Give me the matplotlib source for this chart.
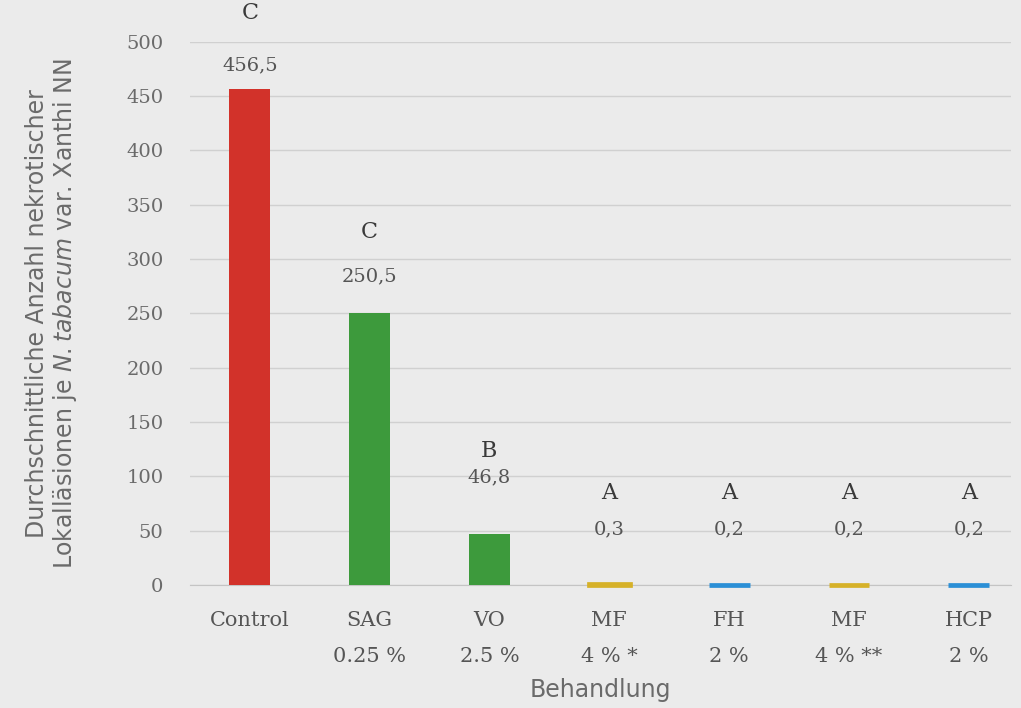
import matplotlib
matplotlib.use('Agg')
import matplotlib.pyplot as plt
import numpy as np

# data
behandlung = ['Control\n ', 'SAG\n0.25 %', 'VO\n2.5 %', 'MF\n4 % *', 'FH\n2 %', 'MF\n4 % **', 'HCP\n2 %']
werte = [456.5, 250.5, 46.8, 0.3, 0.2, 0.2, 0.2]
wert_texte = ['456,5', '250,5', '46,8', '0,3', '0,2', '0,2', '0,2']
gruppen = ['C', 'C', 'B', 'A', 'A', 'A', 'A']
yticks = [0, 50, 100, 150, 200, 250, 300, 350, 400, 450, 500]

farben = ['#d2322a', '#3d9a3c', '#3d9a3c', '#d6b128', '#2b8fd6', '#d6b128', '#2b8fd6']
# offsets of the labels above the bar tops (points)
off_wert = [17, 26, 41, 40, 40, 40, 40]
off_gruppe = [55, 58, 60, 66, 66, 66, 66]

bg = '#ebebeb'
serif = ['DejaVu Serif']
sans = ['DejaVu Sans']

plt.rcParams['mathtext.fontset'] = 'dejavusans'

fig = plt.figure(figsize=(10.21, 7.08), dpi=100, facecolor=bg)
ax = fig.add_axes([0.186, 0.174, 0.804, 0.767])
ax.set_facecolor(bg)

x = np.arange(len(werte))
bars = ax.bar(x, werte, width=0.34, color=farben, zorder=3)
# tiny bars are drawn as thick strokes like in the original
for b, w, c in zip(bars, werte, farben):
    if w < 5:
        b.set_edgecolor(c)
        b.set_linewidth(3.4)
        b.set_clip_on(False)

for i, w in enumerate(werte):
    ax.annotate(wert_texte[i], (x[i], w), xytext=(0, off_wert[i]), textcoords='offset points',
                ha='center', va='center', fontsize=14, color='#555555', family=serif)
    ax.annotate(gruppen[i], (x[i], w), xytext=(0, off_gruppe[i]), textcoords='offset points',
                ha='center', va='center', fontsize=16, color='#3a3a3a', family=serif,
                annotation_clip=False)

ax.set_ylim(0, 500)
ax.set_xlim(-0.5, 6.35)
ax.set_yticks(yticks)
ax.set_yticklabels([str(t) for t in yticks], family=serif, fontsize=14, color='#6a6a6a')
ax.set_xticks(x)
ax.set_xticklabels(behandlung, family=serif, fontsize=15, color='#555555', linespacing=2.15)
ax.tick_params(axis='y', length=0, pad=19)
ax.tick_params(axis='x', length=0, pad=19)

ax.grid(axis='y', color='#d0d0d0', linewidth=1.0, zorder=0)
for s in ['top', 'right', 'left']:
    ax.spines[s].set_visible(False)
ax.spines['bottom'].set_color('#c4c4c4')
ax.spines['bottom'].set_zorder(2)

ax.set_xlabel('Behandlung', family=sans, fontsize=17, color='#6a6a6a', labelpad=8)
ax.set_ylabel('Durchschnittliche Anzahl nekrotischer\nLokalläsionen je $\\mathit{N{.}tabacum}$ var. Xanthi NN',
              family=sans, fontsize=17, color='#6a6a6a', labelpad=34, linespacing=1.1)

fig.savefig('out.png', dpi=100, facecolor=bg)
